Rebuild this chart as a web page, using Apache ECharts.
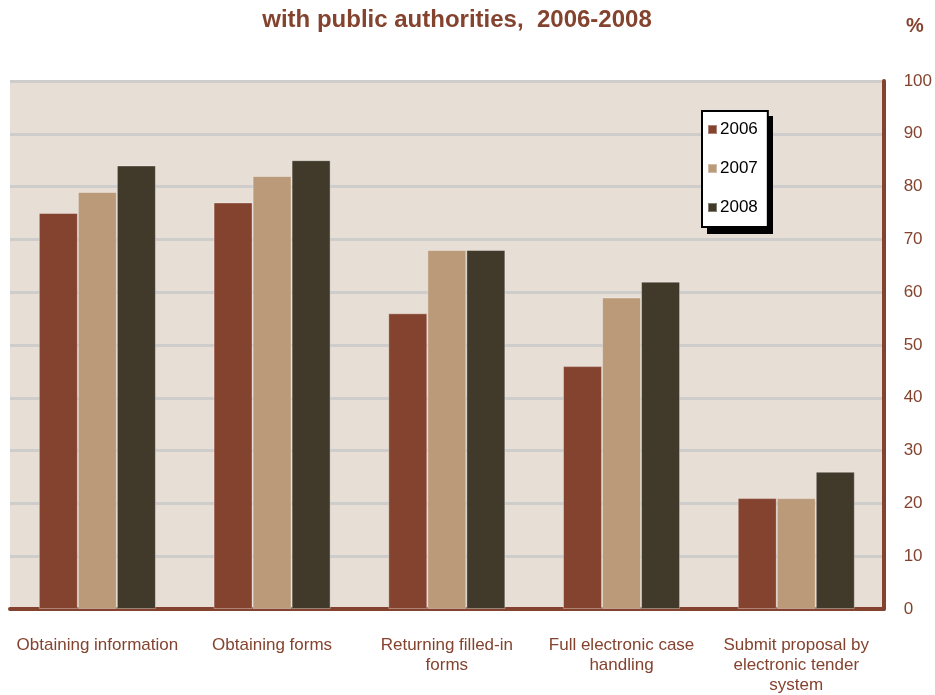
<!DOCTYPE html>
<html>
<head>
<meta charset="utf-8">
<script src="https://cdn.jsdelivr.net/npm/echarts@6/dist/echarts.min.js"></script>
<style>
  html, body { margin: 0; padding: 0; background: #ffffff; }
  #chart { width: 935px; height: 695px; }
</style>
</head>
<body>
<div id="chart"></div>
<script>
// Activities carried out online with public authorities
const categories = [
  'Obtaining information',
  'Obtaining forms',
  'Returning filled-in\nforms',
  'Full electronic case\nhandling',
  'Submit proposal by\nelectronic tender\nsystem'
];
const years = ['2006', '2007', '2008'];
const values2006 = [75, 77, 56, 46, 21];
const values2007 = [79, 82, 68, 59, 21];
const values2008 = [84, 85, 68, 62, 26];
const yTicks = [0, 10, 20, 30, 40, 50, 60, 70, 80, 90, 100];

const brown = '#84432E';
const colors = ['#84432E', '#BB9A7A', '#413A2A'];
const seriesValues = [values2006, values2007, values2008];
const font = 'Liberation Sans, Arial, sans-serif';

const chart = echarts.init(document.getElementById('chart'), null, { renderer: 'canvas' });

chart.setOption({
  animation: false,
  backgroundColor: '#ffffff',
  textStyle: { fontFamily: font },
  title: [
    {
      text: 'with public authorities,  2006-2008',
      left: 452, top: 3, textAlign: 'center',
      textStyle: { color: brown, fontSize: 24, fontWeight: 'bold', fontFamily: font }
    },
    {
      text: '%',
      left: 901, top: 11,
      textStyle: { color: brown, fontSize: 20, fontWeight: 'bold', fontFamily: font }
    }
  ],
  // solid drop shadow behind the legend box
  graphic: [
    {
      type: 'rect',
      z: 3,
      shape: { x: 707, y: 116, width: 66, height: 118 },
      style: { fill: '#000000' }
    }
  ],
  legend: {
    orient: 'vertical',
    left: 702, top: 111,
    data: years,
    itemWidth: 9, itemHeight: 9,
    itemGap: 22,
    padding: [10, 10, 11, 5],
    backgroundColor: '#ffffff',
    borderColor: '#000000',
    borderWidth: 2,
    borderRadius: 0,
    textStyle: { color: '#000000', fontSize: 17, padding: [0, 0, 0, -2] },
    icon: 'rect'
  },
  grid: {
    left: 10, right: 51, top: 81, bottom: 82,
    show: true,
    backgroundColor: '#E7DFD6',
    borderWidth: 0
  },
  xAxis: {
    type: 'category',
    data: categories,
    axisLine: { show: true, lineStyle: { color: brown, width: 4 } },
    axisTick: { show: false },
    axisLabel: {
      color: brown, fontSize: 17, lineHeight: 20, margin: 26,
      interval: 0
    },
    splitLine: { show: false }
  },
  yAxis: {
    type: 'value',
    position: 'right',
    min: yTicks[0], max: yTicks[yTicks.length - 1], interval: 10,
    axisLine: { show: true, lineStyle: { color: brown, width: 4 } },
    axisTick: { show: false },
    axisLabel: { color: brown, fontSize: 17, margin: 20, align: 'left' },
    splitLine: { show: true, lineStyle: { color: '#CFCDCB', width: 3 } }
  },
  series: years.map((y, i) => ({
    name: y,
    type: 'bar',
    data: seriesValues[i],
    barGap: '0%',
    barCategoryGap: '33%',
    itemStyle: {
      color: colors[i],
      borderColor: 'rgba(255,255,255,0.35)',
      borderWidth: 1
    }
  }))
});
</script>
</body>
</html>
